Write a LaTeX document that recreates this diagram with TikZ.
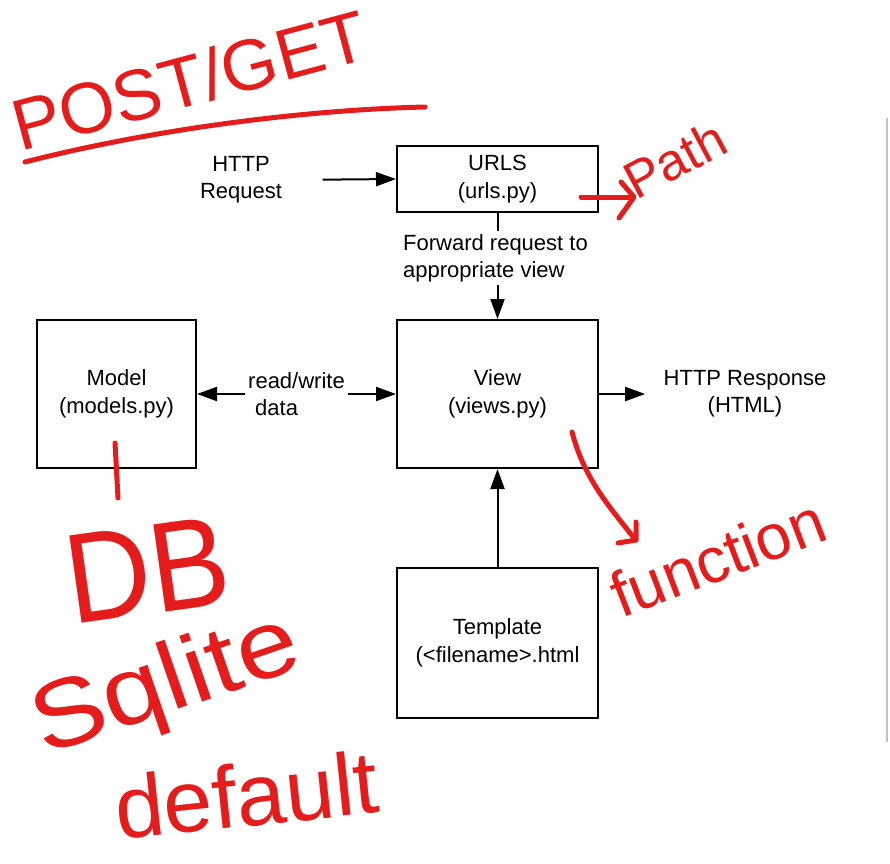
\documentclass[tikz,border=0pt]{standalone}
\usepackage{fontspec}
\setmainfont{Liberation Sans}
\usetikzlibrary{arrows.meta}
\definecolor{pen}{RGB}{228,28,28}
\definecolor{rule}{RGB}{195,195,195}
\begin{document}
\begin{tikzpicture}[x=1pt,y=-1pt,
  box/.style={draw, line width=2pt, inner sep=0pt, align=center,
    font=\fontsize{22}{27.5}\selectfont},
  lbl/.style={align=center, font=\fontsize{22}{27}\selectfont},
  conn/.style={line width=2pt, -{Triangle[length=20pt,width=14pt]}},
  plain/.style={line width=2pt},
  hand/.style={text=pen, anchor=base west, inner sep=0pt},
  ink/.style={draw=pen, line width=5pt, line cap=round, line join=round}]
\useasboundingbox[fill=white] (0,0) rectangle (890,863);

% boxes
\node[box, minimum width=201pt, minimum height=66pt]  (urls)  at (497.5,179) {URLS\\(urls.py)};
\node[box, minimum width=201pt, minimum height=148pt] (view)  at (497.5,394) {View\\(views.py)};
\node[box, minimum width=159pt, minimum height=148pt] (model) at (116.5,394) {Model\\(models.py)};
\node[box, minimum width=201pt, minimum height=150pt] (tmpl)  at (497.5,643) {Template\\(<filename>.html};

% labels
\node[lbl] (req)  at (241,180) {HTTP\\Request};
\node[lbl] (resp) at (745,394) {HTTP Response\\(HTML)};
\node[lbl, align=left] (fwd) at (495.5,258) {Forward request to\\appropriate view};
\node[lbl, align=left] (rw)  at (296.5,394) {read/write\\\hspace{7pt}data};

% connectors
\draw[conn, shorten <=37pt] (req.east) -- (urls.west);
\draw[plain] (urls.south) -- (urls.south |- fwd.north);
\draw[conn] (urls.south |- fwd.south) -- (view.north);
\draw[conn] (rw.west) -- (model.east);
\draw[conn] (rw.east) -- (view.west);
\draw[conn, shorten >=15pt] (view.east) -- (resp.west);
\draw[conn] (tmpl.north) -- (view.south);

% right rule
\draw[rule, line width=1.5pt] (887,118) -- (887,742);

% handwritten annotations
\node[hand, rotate=15, font=\fontsize{72}{72}\selectfont] (postget) at (20,152) {POST/GET};
\draw[ink] (25,162) .. controls (150,130) and (300,110) .. (425,107);

\node[hand, rotate=28, font=\fontsize{52}{52}\selectfont] (path) at (636,201) {Path};
\draw[ink] (581,197) -- (633,197);
\draw[ink] (621,182) -- (634,197) -- (619,218);

\draw[ink] (115,443) -- (118,498);
\node[hand, rotate=8, font=\fontsize{128}{128}\selectfont] (db) at (72,625) {\scalebox{0.92}[1]{DB}};
\node[hand, rotate=19, font=\fontsize{96}{96}\selectfont] (sqlite) at (44,756) {\scalebox{1.15}[1]{Sqlite}};
\node[hand, rotate=6, font=\fontsize{88}{88}\selectfont] (dflt) at (118,840) {default};

\draw[ink] (572,432) .. controls (584,478) and (608,505) .. (634,538);
\draw[ink] (636,522) -- (636,540) -- (618,543);
\node[hand, rotate=21, font=\fontsize{64}{64}\selectfont] (func) at (621,619) {function};
\end{tikzpicture}
\end{document}
